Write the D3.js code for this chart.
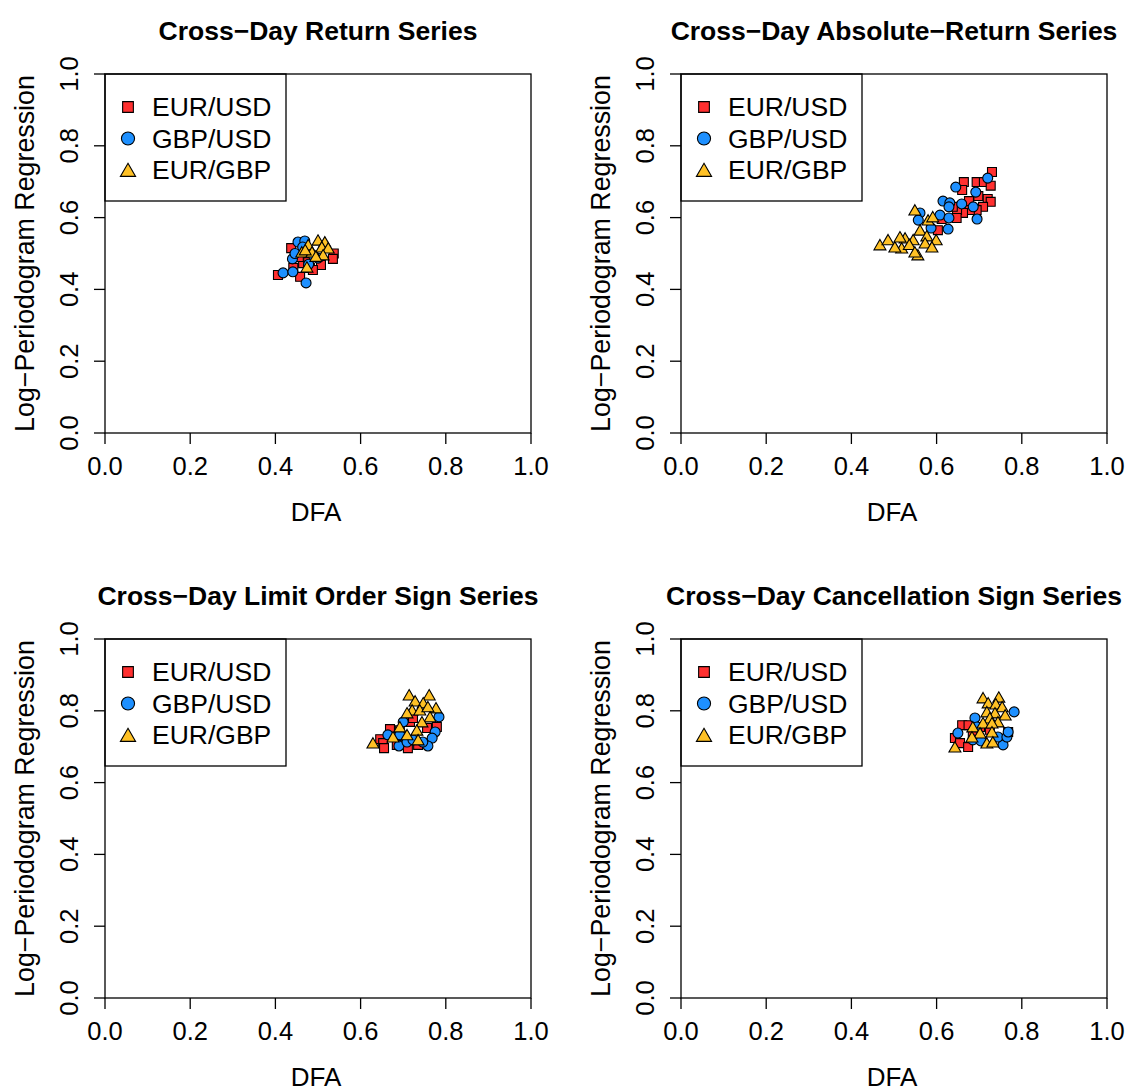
<!DOCTYPE html>
<html lang="en">
<head>
<meta charset="UTF-8">
<title>Cross-Day Hurst Estimates</title>
<script src="https://d3js.org/d3.v7.min.js"></script>
<style>
  body { margin: 0; background: #fff; }
  svg text { font-family: "Liberation Sans", Arial, sans-serif; fill: #000; }
</style>
</head>
<body>
<svg width="1128" height="1091"></svg>
<script>
// ---- data: [DFA, log-periodogram regression] per day ----
const seriesNames = ["EUR/USD", "GBP/USD", "EUR/GBP"];
const panelTitles = [
  "Cross\u2212Day Return Series",
  "Cross\u2212Day Absolute\u2212Return Series",
  "Cross\u2212Day Limit Order Sign Series",
  "Cross\u2212Day Cancellation Sign Series"
];
const tickValues = [0, 0.2, 0.4, 0.6, 0.8, 1.0];

const returnEURUSD = [[0.406,0.44],[0.437,0.515],[0.537,0.50],[0.535,0.485],[0.465,0.473],[0.507,0.468],
  [0.481,0.46],[0.442,0.46],[0.458,0.435],[0.488,0.454],[0.477,0.476],[0.455,0.49]];
const returnGBPUSD = [[0.418,0.446],[0.441,0.449],[0.472,0.418],[0.44,0.485],[0.453,0.532],[0.469,0.535],
  [0.464,0.518],[0.5,0.487],[0.49,0.494],[0.446,0.50],[0.478,0.47]];
const returnEURGBP = [[0.5,0.537],[0.516,0.532],[0.477,0.524],[0.462,0.504],[0.486,0.504],[0.509,0.518],
  [0.524,0.515],[0.512,0.496],[0.495,0.492],[0.474,0.462],[0.47,0.51]];

const absEURUSD = [[0.730,0.727],[0.664,0.699],[0.694,0.699],[0.711,0.699],[0.727,0.689],[0.660,0.677],
  [0.698,0.66],[0.676,0.646],[0.72,0.652],[0.727,0.644],[0.709,0.63],[0.694,0.621],[0.678,0.621],
  [0.662,0.613],[0.648,0.621],[0.612,0.596],[0.647,0.599],[0.603,0.565],[0.638,0.63]];
const absGBPUSD = [[0.72,0.71],[0.645,0.685],[0.692,0.671],[0.615,0.646],[0.631,0.641],[0.629,0.63],
  [0.659,0.638],[0.686,0.63],[0.695,0.596],[0.561,0.613],[0.557,0.593],[0.608,0.607],[0.629,0.599],
  [0.627,0.568],[0.587,0.571]];
const absEURGBP = [[0.549,0.621],[0.58,0.593],[0.591,0.602],[0.561,0.565],[0.577,0.549],[0.599,0.538],
  [0.573,0.529],[0.589,0.518],[0.556,0.496],[0.545,0.538],[0.526,0.543],[0.518,0.515],[0.467,0.524],
  [0.486,0.538],[0.502,0.518],[0.514,0.546],[0.536,0.525],[0.549,0.504]];

const limitEURUSD = [[0.646,0.721],[0.653,0.71],[0.655,0.696],[0.669,0.749],[0.681,0.727],[0.685,0.705],
  [0.711,0.696],[0.716,0.769],[0.723,0.78],[0.756,0.752],[0.779,0.755],[0.692,0.746],[0.735,0.705]];
const limitGBPUSD = [[0.784,0.783],[0.7,0.769],[0.664,0.733],[0.692,0.733],[0.69,0.702],[0.709,0.713],
  [0.775,0.741],[0.768,0.724],[0.758,0.702],[0.746,0.713],[0.723,0.719]];
const limitEURGBP = [[0.714,0.844],[0.761,0.844],[0.728,0.827],[0.747,0.822],[0.777,0.808],[0.721,0.802],
  [0.739,0.802],[0.758,0.811],[0.709,0.794],[0.763,0.783],[0.744,0.769],[0.692,0.755],[0.732,0.746],
  [0.709,0.733],[0.629,0.71],[0.735,0.719],[0.676,0.727]];

const cancelEURUSD = [[0.66,0.76],[0.675,0.76],[0.702,0.755],[0.643,0.724],[0.655,0.71],[0.674,0.699],
  [0.768,0.741],[0.725,0.747],[0.685,0.733]];
const cancelGBPUSD = [[0.782,0.797],[0.69,0.78],[0.65,0.738],[0.685,0.719],[0.704,0.716],[0.756,0.705],
  [0.744,0.727],[0.765,0.727],[0.768,0.741],[0.695,0.755]];
const cancelEURGBP = [[0.709,0.836],[0.746,0.838],[0.721,0.822],[0.739,0.819],[0.754,0.811],[0.718,0.797],
  [0.737,0.794],[0.761,0.788],[0.725,0.78],[0.709,0.766],[0.744,0.769],[0.73,0.766],[0.685,0.755],
  [0.73,0.741],[0.702,0.738],[0.683,0.727],[0.718,0.71],[0.732,0.713],[0.643,0.699]];

const panels = [
  [returnEURUSD, returnGBPUSD, returnEURGBP],
  [absEURUSD, absGBPUSD, absEURGBP],
  [limitEURUSD, limitGBPUSD, limitEURGBP],
  [cancelEURUSD, cancelGBPUSD, cancelEURGBP]
];

const fills = ["#FF3030", "#1E90FF", "#FFC125"];
const symbols = [d3.symbolSquare, d3.symbolCircle, d3.symbolTriangle];
const pointSizes = [80, 78, 62];
const legendSizes = [115, 135, 100];

const svg = d3.select("svg");
const boxW = 426, boxH = 359;
const origins = [[105, 74], [681, 74], [105, 639], [681, 639]];

const xScale = d3.scaleLinear().domain([0, 1]).range([0, boxW]);
const yScale = d3.scaleLinear().domain([0, 1]).range([boxH, 0]);

panels.forEach((panel, i) => {
  const [ox, oy] = origins[i];
  const g = svg.append("g").attr("transform", `translate(${ox},${oy})`);

  // title
  g.append("text")
    .attr("x", boxW / 2).attr("y", -34)
    .attr("text-anchor", "middle")
    .style("font-size", "26.5px").style("font-weight", "bold")
    .text(panelTitles[i]);

  // x axis ticks
  const xt = g.append("g").attr("transform", `translate(0,${boxH})`);
  xt.selectAll("line").data(tickValues).join("line")
    .attr("x1", d => xScale(d)).attr("x2", d => xScale(d))
    .attr("y1", 0).attr("y2", 11)
    .attr("stroke", "#000").attr("stroke-width", 1.3);
  xt.selectAll("text").data(tickValues).join("text")
    .attr("x", d => xScale(d)).attr("y", 42)
    .attr("text-anchor", "middle")
    .style("font-size", "25.5px")
    .text(d => d3.format(".1f")(d));
  g.append("text")
    .attr("x", boxW / 2 - 2).attr("y", boxH + 88)
    .attr("text-anchor", "middle").style("font-size", "26px")
    .text("DFA");

  // y axis ticks
  const yt = g.append("g");
  yt.selectAll("line").data(tickValues).join("line")
    .attr("x1", 0).attr("x2", -11)
    .attr("y1", d => yScale(d)).attr("y2", d => yScale(d))
    .attr("stroke", "#000").attr("stroke-width", 1.3);
  yt.selectAll("text").data(tickValues).join("text")
    .attr("transform", d => `translate(-27,${yScale(d)}) rotate(-90)`)
    .attr("text-anchor", "middle")
    .style("font-size", "25.5px")
    .text(d => d3.format(".1f")(d));
  g.append("text")
    .attr("transform", `translate(-71,${boxH / 2}) rotate(-90)`)
    .attr("text-anchor", "middle").style("font-size", "26.8px")
    .text("Log\u2212Periodogram Regression");

  // points
  panel.forEach((pts, s) => {
    g.append("g").selectAll("path").data(pts).join("path")
      .attr("transform", d => `translate(${xScale(d[0])},${yScale(d[1]) + (s === 2 ? 1.5 : 0)})`)
      .attr("d", d3.symbol().type(symbols[s]).size(pointSizes[s]))
      .attr("fill", fills[s]).attr("stroke", "#000").attr("stroke-width", 1.1);
  });

  // legend
  const lg = g.append("g");
  lg.append("rect")
    .attr("x", 0).attr("y", 0).attr("width", 181).attr("height", 127)
    .attr("fill", "#fff").attr("stroke", "#000").attr("stroke-width", 1.3);
  seriesNames.forEach((name, s) => {
    const cy = 33 + s * 31.5;
    lg.append("path")
      .attr("transform", `translate(23,${cy + (s === 2 ? 2 : 0)})`)
      .attr("d", d3.symbol().type(symbols[s]).size(legendSizes[s]))
      .attr("fill", fills[s]).attr("stroke", "#000").attr("stroke-width", 1.1);
    lg.append("text")
      .attr("x", 47).attr("y", cy + 9)
      .style("font-size", "26.5px")
      .text(name);
  });

  // plot box
  g.append("rect")
    .attr("width", boxW).attr("height", boxH)
    .attr("fill", "none").attr("stroke", "#000").attr("stroke-width", 1.3);
});
</script>
</body>
</html>
